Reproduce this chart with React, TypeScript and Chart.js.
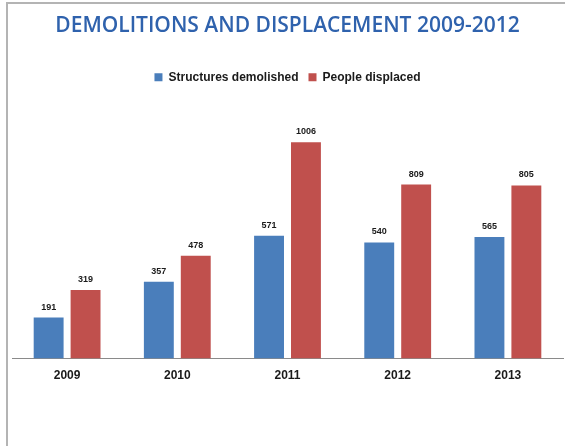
import React, { useEffect, useRef } from "react";
import { Chart, registerables } from "chart.js";

Chart.register(...registerables);

const categories = ["2009", "2010", "2011", "2012", "2013"];
const structuresDemolished = [191, 357, 571, 540, 565];
const peopleDisplaced = [319, 478, 1006, 809, 805];
const seriesNames = ["Structures demolished", "People displaced"];
const titleText = "DEMOLITIONS AND DISPLACEMENT 2009-2012";

const BLUE = "#4a7ebb";
const RED = "#c0504d";

const framePlugin = {
  id: "frame",
  beforeDraw(chart: any) {
    const { ctx, width, height } = chart;
    ctx.save();
    ctx.fillStyle = "#ffffff";
    ctx.fillRect(0, 0, width, height);
    ctx.strokeStyle = "#b4b4b4";
    ctx.lineWidth = 2;
    ctx.beginPath();
    ctx.moveTo(7, height);
    ctx.lineTo(7, 3);
    ctx.lineTo(width, 3);
    ctx.stroke();
    ctx.restore();
  },
};

const valueLabelPlugin = {
  id: "valueLabels",
  afterDatasetsDraw(chart: any) {
    const { ctx } = chart;
    ctx.save();
    ctx.font = "bold 9px 'Liberation Sans', Arial, sans-serif";
    ctx.fillStyle = "#1a1a1a";
    ctx.textAlign = "center";
    ctx.textBaseline = "bottom";
    chart.data.datasets.forEach((ds: any, i: number) => {
      const meta = chart.getDatasetMeta(i);
      meta.data.forEach((el: any, j: number) => {
        ctx.fillText(String(ds.data[j]), el.x, el.y - 6);
      });
    });
    ctx.restore();
  },
};

export default function App() {
  const ref = useRef<HTMLCanvasElement | null>(null);

  useEffect(() => {
    if (!ref.current) return;
    const chart = new Chart(ref.current, {
      type: "bar",
      data: {
        labels: categories,
        datasets: [
          {
            label: seriesNames[0],
            data: structuresDemolished,
            backgroundColor: BLUE,
            categoryPercentage: 0.67,
            barPercentage: 0.81,
          },
          {
            label: seriesNames[1],
            data: peopleDisplaced,
            backgroundColor: RED,
            categoryPercentage: 0.67,
            barPercentage: 0.81,
          },
        ],
      },
      options: {
        animation: false,
        responsive: false,
        maintainAspectRatio: false,
        layout: { padding: { left: 12, right: 2, top: 0, bottom: 53 } },
        plugins: {
          title: {
            display: true,
            text: titleText,
            color: "#2f62ad",
            font: { family: "'Open Sans', sans-serif", size: 21, weight: "600" },
            padding: { top: 13, bottom: 23 },
          },
          legend: {
            display: true,
            position: "top",
            labels: {
              boxWidth: 8,
              boxHeight: 8,
              color: "#1a1a1a",
              font: { family: "'Liberation Sans', Arial, sans-serif", size: 12, weight: "bold" },
              padding: 10,
            },
          },
          tooltip: { enabled: false },
        },
        scales: {
          x: {
            grid: { display: false, drawTicks: false, tickLength: 0 },
            border: { display: true, color: "#8a8a8a", width: 1 },
            ticks: {
              color: "#1a1a1a",
              font: { family: "'Liberation Sans', Arial, sans-serif", size: 12, weight: "bold" },
              padding: 10,
            },
          },
          y: {
            display: false,
            min: 0,
            max: 1234,
          },
        },
      },
      plugins: [framePlugin, valueLabelPlugin],
    });
    return () => chart.destroy();
  }, []);

  return (
    <div style={{ position: "absolute", left: 0, top: 0, width: 565, height: 446 }}>
      <canvas ref={ref} width={565} height={446} style={{ width: 565, height: 446, display: "block" }} />
    </div>
  );
}
